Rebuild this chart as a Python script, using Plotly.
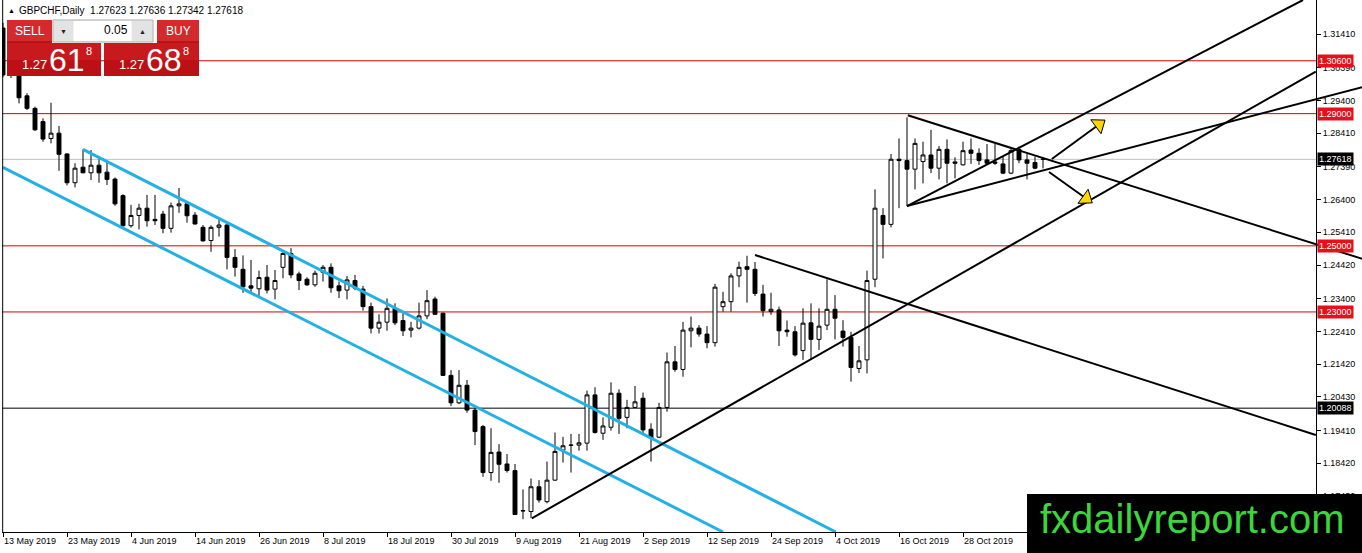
import plotly.graph_objects as go

# ---------------- data ----------------
opens = [1.3159, 1.3017, 1.3040, 1.2954, 1.2916, 1.2876, 1.2825, 1.2841, 1.2778, 1.2691,
         1.2738, 1.2721, 1.2744, 1.2723, 1.2702, 1.2652, 1.2561, 1.2592, 1.2614, 1.2580,
         1.2596, 1.2553, 1.2621, 1.2627, 1.2593, 1.2556, 1.2516, 1.2556, 1.2563, 1.2465,
         1.2429, 1.2379, 1.2370, 1.2405, 1.2369, 1.2435, 1.2477, 1.2415, 1.2399, 1.2382,
         1.2420, 1.2435, 1.2379, 1.2366, 1.2395, 1.2369, 1.2316, 1.2251, 1.2269, 1.2311,
         1.2274, 1.2245, 1.2251, 1.2288, 1.2339, 1.2296, 1.2108, 1.2025, 1.2078, 1.2003,
         1.1953, 1.1814, 1.1876, 1.1840, 1.1820, 1.1699, 1.1696, 1.1771, 1.1726, 1.1791,
         1.1882, 1.1896, 1.1897, 1.1903, 1.2049, 1.1933, 1.1951, 1.2054, 1.1981, 1.2011,
         1.2039, 1.1945, 1.1921, 1.2011, 1.2149, 1.2126, 1.2243, 1.2251, 1.2233, 1.2207,
         1.2316, 1.2331, 1.2409, 1.2437, 1.2429, 1.2354, 1.2301, 1.2306, 1.2245, 1.2240,
         1.2183, 1.2267, 1.2217, 1.2260, 1.2308, 1.2242, 1.2223, 1.2129, 1.2155, 1.2399,
         1.2592, 1.2565, 1.2762, 1.2758, 1.2732, 1.2755, 1.2775, 1.2735, 1.2792, 1.2754,
         1.2745, 1.2790, 1.2780, 1.2760, 1.2754, 1.2748, 1.2720, 1.2792, 1.2760, 1.2752,
         1.27623]
highs = [1.3175, 1.3060, 1.3050, 1.2962, 1.2921, 1.2886, 1.2933, 1.2863, 1.2780, 1.2750,
         1.2792, 1.2790, 1.2762, 1.2755, 1.2707, 1.2656, 1.2624, 1.2627, 1.2654, 1.2654,
         1.2606, 1.2631, 1.2675, 1.2631, 1.2602, 1.2563, 1.2562, 1.2583, 1.2573, 1.2490,
         1.2471, 1.2457, 1.2425, 1.2442, 1.2427, 1.2485, 1.2493, 1.2422, 1.2405, 1.2425,
         1.2442, 1.2447, 1.2392, 1.2409, 1.2412, 1.2379, 1.2328, 1.2293, 1.2341, 1.2326,
         1.2301, 1.2270, 1.2328, 1.2366, 1.2346, 1.2298, 1.2124, 1.2124, 1.2094, 1.2015,
         1.1958, 1.1948, 1.1900, 1.1870, 1.1840, 1.1763, 1.1796, 1.1791, 1.1847, 1.1935,
         1.1922, 1.1931, 1.1931, 1.2062, 1.2072, 1.1981, 1.2087, 1.2066, 1.2034, 1.2076,
         1.2056, 1.1963, 1.2025, 1.2177, 1.2197, 1.2270, 1.2286, 1.2260, 1.2257, 1.2385,
         1.2361, 1.2417, 1.2452, 1.2470, 1.2451, 1.2382, 1.2358, 1.2316, 1.2274, 1.2257,
         1.2311, 1.2326, 1.2311, 1.2399, 1.2351, 1.2275, 1.2240, 1.2197, 1.2425, 1.2671,
         1.2614, 1.2778, 1.2825, 1.2889, 1.2825, 1.2815, 1.2851, 1.2802, 1.2822, 1.2768,
         1.2815, 1.2825, 1.2795, 1.2808, 1.2808, 1.2770, 1.2795, 1.2800, 1.2778, 1.2770,
         1.27636]
lows = [1.3010, 1.3008, 1.2931, 1.2911, 1.2848, 1.2815, 1.2810, 1.2727, 1.2683, 1.2677,
        1.2720, 1.2699, 1.2691, 1.2684, 1.2621, 1.2558, 1.2555, 1.2550, 1.2558, 1.2563,
        1.2538, 1.2540, 1.2600, 1.2570, 1.2565, 1.2513, 1.2482, 1.2528, 1.2429, 1.2407,
        1.2358, 1.2356, 1.2344, 1.2356, 1.2338, 1.2402, 1.2402, 1.2366, 1.2379, 1.2376,
        1.2392, 1.2358, 1.2342, 1.2338, 1.2366, 1.2304, 1.2235, 1.2235, 1.2243, 1.2260,
        1.2227, 1.2223, 1.2247, 1.2278, 1.2291, 1.2106, 1.2015, 1.2021, 1.1995, 1.1897,
        1.1801, 1.1789, 1.1783, 1.1814, 1.1686, 1.1673, 1.1676, 1.1723, 1.1721, 1.1789,
        1.1844, 1.1814, 1.1880, 1.1880, 1.1932, 1.1913, 1.1941, 1.1931, 1.1948, 1.2011,
        1.1928, 1.1847, 1.1918, 1.1998, 1.2119, 1.2104, 1.2193, 1.2225, 1.2190, 1.2195,
        1.2301, 1.2301, 1.2375, 1.2328, 1.2348, 1.2286, 1.2291, 1.2197, 1.2225, 1.2165,
        1.2155, 1.2157, 1.2185, 1.2245, 1.2217, 1.2195, 1.2089, 1.2115, 1.2114, 1.2375,
        1.2462, 1.2556, 1.2614, 1.2621, 1.2671, 1.2689, 1.2720, 1.2701, 1.2689, 1.2704,
        1.2743, 1.2748, 1.2745, 1.2745, 1.2745, 1.2717, 1.2717, 1.2750, 1.2701, 1.2732,
        1.27342]
closes = [1.3017, 1.3040, 1.2948, 1.2916, 1.2851, 1.2823, 1.2841, 1.2777, 1.2691, 1.2735,
          1.2721, 1.2744, 1.2721, 1.2701, 1.2627, 1.2561, 1.2592, 1.2614, 1.2576, 1.2576,
          1.2553, 1.2621, 1.2627, 1.2591, 1.2566, 1.2515, 1.2556, 1.2563, 1.2465, 1.2435,
          1.2376, 1.2372, 1.2404, 1.2366, 1.2395, 1.2477, 1.2412, 1.2395, 1.2382, 1.2417,
          1.2435, 1.2373, 1.2364, 1.2397, 1.2372, 1.2316, 1.2251, 1.2269, 1.2311, 1.2267,
          1.2243, 1.2251, 1.2288, 1.2334, 1.2293, 1.2108, 1.2025, 1.2078, 1.2003, 1.1938,
          1.1814, 1.1875, 1.1839, 1.1820, 1.1687, 1.1698, 1.1771, 1.1731, 1.1791, 1.1878,
          1.1895, 1.1897, 1.1904, 1.2049, 1.1935, 1.1955, 1.2054, 1.1978, 1.2011, 1.2028,
          1.1943, 1.1918, 1.2011, 1.2149, 1.2126, 1.2245, 1.2251, 1.2233, 1.2207, 1.2375,
          1.2331, 1.2409, 1.2435, 1.2429, 1.2356, 1.2304, 1.2308, 1.2243, 1.2240, 1.2170,
          1.2266, 1.2217, 1.2257, 1.2308, 1.2281, 1.2223, 1.2132, 1.2152, 1.2395, 1.2614,
          1.2565, 1.2762, 1.2758, 1.2732, 1.2810, 1.2775, 1.2735, 1.2792, 1.2750, 1.2750,
          1.2788, 1.2780, 1.2758, 1.2750, 1.2750, 1.2720, 1.2788, 1.2760, 1.2750, 1.2735,
          1.27618]
bar_index = list(range(len(opens)))

date_tick_index = [0, 8, 16, 24, 32, 40, 48, 56, 64, 72, 80, 88, 96, 104, 112, 120]
date_labels = ["13 May 2019", "23 May 2019", "4 Jun 2019", "14 Jun 2019", "26 Jun 2019",
               "8 Jul 2019", "18 Jul 2019", "30 Jul 2019", "9 Aug 2019", "21 Aug 2019",
               "2 Sep 2019", "12 Sep 2019", "24 Sep 2019", "4 Oct 2019", "16 Oct 2019",
               "28 Oct 2019"]
price_ticks = [1.31410, 1.30390, 1.29400, 1.28410, 1.27390, 1.26400, 1.25410, 1.24420,
               1.23400, 1.22410, 1.21420, 1.20430, 1.19410, 1.18420, 1.17430]
red_levels = [1.30600, 1.29000, 1.25000, 1.23000]
bid_level = 1.27618
black_level = 1.20088

# drawn lines: anchor points (bar index, price)
cyan_upper_x, cyan_upper_y = [10, 104.1], [1.27921, 1.16341]
cyan_lower_x, cyan_lower_y = [0, 90], [1.27377, 1.16341]
rise_x, rise_y = [66.1, 164.1], [1.16755, 1.30275]
sep_desc_x, sep_desc_y = [94, 164.1], [1.24723, 1.19276]
tri_top_x, tri_top_y = [113.1, 170], [1.28950, 1.24600]
tri_low_x, tri_low_y = [113, 170], [1.26205, 1.29806]
tri_up_x, tri_up_y = [113, 162.5], [1.26205, 1.32439]
arrow_up_x, arrow_up_y = [131.1, 137.6], [1.27628, 1.28778]
arrow_dn_x, arrow_dn_y = [130.75, 136.0], [1.27234, 1.26327]

# ---------------- layout geometry ----------------
W, H = 1362, 553
ML, MR, MT, MB = 2, 0, 0, 21
PW, PH = W - ML - MR, H - MT - MB
BAR_PX = 8.0
x_lo = -1.0 / BAR_PX
x_hi = x_lo + PW / BAR_PX
y_lo, y_hi = 1.16341, 1.32439
AXIS_PX = 1316
axis_pos = (AXIS_PX - ML) / PW
x_axis_end = x_lo + (AXIS_PX - ML) / BAR_PX


def px(x):
    return (x - ML) / PW


def py(y):
    return (PH - (y - MT)) / PH


FONT = "Liberation Sans"
CYAN = "#22b0e6"
RED_LINE = "#d40000"
RED_BOX = "#e5101a"

fig = go.Figure()

fig.add_trace(go.Candlestick(
    x=bar_index, open=opens, high=highs, low=lows, close=closes,
    increasing=dict(line=dict(color="black", width=1), fillcolor="white"),
    decreasing=dict(line=dict(color="black", width=1), fillcolor="black"),
    whiskerwidth=0, hoverinfo="skip", showlegend=False,
))

for xs, ys, col, w in [
    (cyan_upper_x, cyan_upper_y, CYAN, 3),
    (cyan_lower_x, cyan_lower_y, CYAN, 3),
    (rise_x, rise_y, "black", 2),
    (sep_desc_x, sep_desc_y, "black", 2),
    (tri_top_x, tri_top_y, "black", 2),
    (tri_low_x, tri_low_y, "black", 2),
    (tri_up_x, tri_up_y, "black", 2),
]:
    fig.add_trace(go.Scatter(x=xs, y=ys, mode="lines", line=dict(color=col, width=w),
                             hoverinfo="skip", showlegend=False))

for xs, ys in [(arrow_up_x, arrow_up_y), (arrow_dn_x, arrow_dn_y)]:
    fig.add_trace(go.Scatter(
        x=xs, y=ys, mode="lines+markers", line=dict(color="black", width=2),
        marker=dict(symbol=["circle", "triangle-up"], size=[1, 15], color="#ffd800",
                    opacity=[0, 1], angleref="previous", standoff=[0, 6],
                    line=dict(color="black", width=1)),
        hoverinfo="skip", showlegend=False, cliponaxis=False))

shapes = []
# horizontal levels
for lv in red_levels:
    shapes.append(dict(type="line", xref="x", yref="y", x0=x_lo, x1=x_axis_end, y0=lv, y1=lv,
                       line=dict(color=RED_LINE, width=1), layer="below"))
shapes.append(dict(type="line", xref="x", yref="y", x0=x_lo, x1=x_axis_end, y0=bid_level,
                   y1=bid_level, line=dict(color="#c0c0c0", width=1), layer="below"))
shapes.append(dict(type="line", xref="x", yref="y", x0=x_lo, x1=x_axis_end, y0=black_level,
                   y1=black_level, line=dict(color="black", width=1), layer="below"))
# left border
shapes.append(dict(type="line", xref="paper", yref="paper", x0=0.0005, x1=0.0005, y0=0, y1=1,
                   line=dict(color="black", width=1)))


def rect(x0, y0, x1, y1, fill, line=None, lw=0):
    shapes.append(dict(type="rect", xref="paper", yref="paper", x0=px(x0), x1=px(x1),
                       y0=py(y1), y1=py(y0), fillcolor=fill, layer="above",
                       line=dict(color=line or fill, width=lw)))


# one-click trading panel
rect(7, 20, 52, 43, "#d42a2d")
rect(7, 41, 52, 43, "#b81418")
rect(53, 20, 153, 42, "#f2f2f2", "#a8a8a8", 1)
rect(54, 21, 73, 41, "#e3e3e3")
rect(132, 21, 152, 41, "#e3e3e3")
rect(74, 21, 131, 41, "#ffffff")
rect(157, 20, 199, 43, "#d42a2d")
rect(157, 41, 199, 43, "#b81418")
rect(7, 43, 101, 76, "#c81a1e")
rect(7, 60, 101, 76, "#bb1116")
rect(104, 43, 199, 76, "#c81a1e")
rect(104, 60, 199, 76, "#bb1116")
# watermark box
rect(1027, 494, 1362, 553, "#000000")

annotations = []


def text_px(x, y, t, size, color="black", xanchor="left", family=FONT):
    annotations.append(dict(xref="paper", yref="paper", x=px(x), y=py(y), text=t,
                            showarrow=False, xanchor=xanchor, yanchor="middle",
                            font=dict(family=family, size=size, color=color)))


text_px(6, 10, "▲", 7)
text_px(17, 10, "GBPCHF,Daily  1.27623 1.27636 1.27342 1.27618", 10)
text_px(29.5, 31, "SELL", 12, "white", "center")
text_px(178, 31, "BUY", 12, "white", "center")
text_px(130, 30.5, "0.05", 12, "black", "right")
text_px(63.5, 31, "▼", 7, "#222222", "center")
text_px(142, 31, "▲", 7, "#222222", "center")
text_px(20, 65, "1.27", 13, "white")
text_px(47, 60, "61", 32, "white")
text_px(84, 51, "8", 11, "white")
text_px(117, 65, "1.27", 13, "white")
text_px(144, 60, "68", 32, "white")
text_px(181, 51, "8", 11, "white")
text_px(1192.5, 519, "fxdailyreport.com", 40, "#3cd63c", "center", "Liberation Sans")

# price-scale labels
for lv in red_levels:
    annotations.append(dict(xref="paper", yref="y", x=axis_pos, xshift=1, y=lv,
                            text=f"{lv:.5f}", showarrow=False, xanchor="left",
                            yanchor="middle", bgcolor=RED_BOX, borderpad=1,
                            font=dict(family=FONT, size=9, color="white")))
for lv in [bid_level, black_level]:
    annotations.append(dict(xref="paper", yref="y", x=axis_pos, xshift=1, y=lv,
                            text=f"{lv:.5f}", showarrow=False, xanchor="left",
                            yanchor="middle", bgcolor="#000000", borderpad=1,
                            font=dict(family=FONT, size=9, color="white")))

fig.update_layout(
    width=W, height=H, margin=dict(l=ML, r=MR, t=MT, b=MB, pad=0),
    paper_bgcolor="white", plot_bgcolor="white", showlegend=False,
    shapes=shapes, annotations=annotations,
    xaxis=dict(range=[x_lo, x_hi], domain=[0, 1], showgrid=False, zeroline=False,
               showline=True, linecolor="black", linewidth=1, ticks="outside", ticklen=4,
               tickcolor="black", tickvals=date_tick_index, ticktext=date_labels,
               ticklabelposition="outside right",
               tickfont=dict(family=FONT, size=9, color="black"),
               rangeslider=dict(visible=False), fixedrange=True),
    yaxis=dict(range=[y_lo, y_hi], side="right", anchor="free", position=axis_pos,
               showgrid=False, zeroline=False, showline=True, linecolor="black",
               linewidth=1, ticks="outside", ticklen=4, tickcolor="black",
               tickvals=price_ticks, ticktext=[f"{v:.5f}" for v in price_ticks],
               tickfont=dict(family=FONT, size=9, color="black"), fixedrange=True),
)

fig.write_html("out.html", config={"displayModeBar": False},
               post_script="document.body.style.margin='0';")
